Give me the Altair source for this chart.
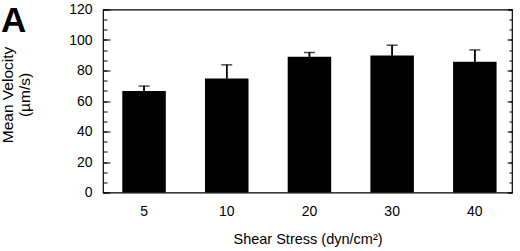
import altair as alt
import pandas as pd

shear = ["5", "10", "20", "30", "40"]
velocity = [66.5, 74.8, 89.0, 89.9, 85.7]
sem = [3.3, 8.9, 2.8, 6.7, 7.8]
major_ticks = [0, 20, 40, 60, 80, 100, 120]
minor_ticks = [i * 20 / 3 for i in range(19)]
panel_label = ["A"]

df = pd.DataFrame({"shear": shear, "velocity": velocity, "sem": sem})
df["upper"] = df["velocity"] + df["sem"]

FONT = "Liberation Sans"

xscale = alt.Scale(domain=shear, paddingInner=0.474, paddingOuter=0.21, align=0.556)
yscale = alt.Scale(domain=[0, 120], nice=False, zero=True)

xaxis = alt.Axis(
    title="Shear Stress (dyn/cm²)", labelAngle=0, ticks=False, domain=False,
    labelPadding=12, labelFontSize=14, labelColor="black", labelFont=FONT,
    titleFontSize=14.5, titleFontWeight="normal", titleColor="black", titleFont=FONT,
    titlePadding=14,
)

y_left_major = alt.Axis(
    orient="left", values=major_ticks, offset=-7, tickSize=7, domain=False, grid=False,
    tickColor="black", tickWidth=1, labelFontSize=14, labelColor="black", labelFont=FONT,
    labelPadding=11, title=["Mean Velocity", "(µm/s)"], titleFont=FONT, titleFontSize=15.5,
    titleFontWeight="normal", titleColor="black", titleAngle=-90, titleAlign="center",
    titleBaseline="top", titleLineHeight=17, titleX=-110, titleY=85,
)
y_left_minor = alt.Axis(
    orient="left", values=minor_ticks, offset=-4, tickSize=4, domain=False, grid=False,
    labels=False, title=None, tickColor="black", tickWidth=1,
)
y_right_major = alt.Axis(
    orient="right", values=major_ticks, offset=-5, tickSize=5, domain=False, grid=False,
    labels=False, title=None, tickColor="black", tickWidth=1,
)
y_right_minor = alt.Axis(
    orient="right", values=minor_ticks, offset=-3, tickSize=3, domain=False, grid=False,
    labels=False, title=None, tickColor="black", tickWidth=1,
)

base = alt.Chart(df)
X = alt.X("shear:N", scale=xscale, axis=xaxis, sort=shear)

bars = base.mark_bar(color="black").encode(
    x=X,
    y=alt.Y("velocity:Q", scale=yscale, axis=y_left_major),
)
rule = base.mark_rule(color="black", strokeWidth=1.5).encode(
    x=X,
    y=alt.Y("velocity:Q", scale=yscale, axis=y_left_minor),
    y2="upper:Q",
)
cap = base.mark_tick(color="black", orient="horizontal", size=11, thickness=1.5).encode(
    x=X,
    y=alt.Y("upper:Q", scale=yscale, axis=y_right_major),
)
rule2 = base.mark_rule(color="black", strokeWidth=1.5).encode(
    x=X,
    y=alt.Y("velocity:Q", scale=yscale, axis=y_right_minor),
    y2="upper:Q",
)
label = alt.Chart(pd.DataFrame({"panel": panel_label})).mark_text(
    align="left", baseline="alphabetic", fontSize=35, fontWeight="bold", font=FONT, color="black"
).encode(text="panel:N", x=alt.value(-102), y=alt.value(22.5))

chart = (
    alt.layer(bars, rule, cap, rule2, label)
    .resolve_axis(y="independent")
    .resolve_scale(y="shared")
    .properties(
        width=409, height=183,
        autosize=alt.AutoSizeParams(type="none"),
        padding={"left": 103, "top": 9.5, "right": 8, "bottom": 58.5},
        background="white",
    )
    .configure_view(stroke="black", strokeWidth=1.2)
)

chart.save("out.html", embed_options={"renderer": "svg", "actions": False})
